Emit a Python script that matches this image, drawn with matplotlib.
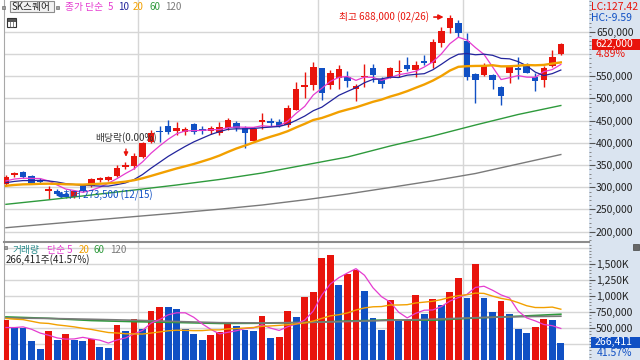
import numpy as np
import pandas as pd
import matplotlib
matplotlib.use("Agg")
import matplotlib.pyplot as plt
from matplotlib.patches import Rectangle
from matplotlib.ticker import FixedLocator, MultipleLocator, FuncFormatter

plt.rcParams['font.family'] = ['Noto Sans CJK KR', 'DejaVu Sans']

# daily candles (thousand won), 66 sessions up to today
opens = [307.0, 327.3, 333.4, 325.7, 313.8, 291.9, 291.0, 285.0, 277.1, 302.5,
         303.2, 316.0, 316.0, 325.7, 344.6, 348.2, 368.5, 402.3, 426.4, 437.6,
         427.1, 424.8, 441.5, 430.2, 426.4, 423.0, 432.5, 443.7, 433.1, 403.2,
         446.7, 448.9, 447.3, 439.9, 473.7, 525.5, 530.0, 567.6, 531.1, 545.0,
         548.7, 520.3, 547.3, 568.9, 543.5, 547.3, 559.3, 575.0, 563.8, 584.7,
         580.2, 625.2, 657.7, 668.9, 629.7, 554.7, 552.5, 552.5, 524.8, 556.3,
         567.6, 575.0, 548.7, 541.2, 573.4, 599.1]
highs = [327.3, 334.7, 336.3, 327.3, 319.9, 302.5, 296.0, 289.0, 293.5, 307.0,
         319.9, 323.5, 325.7, 349.8, 357.2, 376.2, 402.3, 428.6, 437.6, 451.2,
         447.3, 436.1, 443.7, 437.6, 437.6, 446.7, 455.0, 449.6, 437.6, 435.4,
         467.6, 455.7, 452.7, 485.0, 537.4, 559.9, 582.4, 567.6, 563.8, 575.0,
         562.2, 532.2, 577.3, 577.3, 548.0, 571.2, 586.3, 592.4, 584.0, 597.5,
         632.9, 661.3, 688.0, 676.4, 646.4, 557.0, 579.5, 554.7, 527.7, 575.0,
         593.7, 578.8, 556.3, 572.8, 608.8, 625.0]
lows = [302.5, 322.1, 319.9, 307.0, 307.0, 273.5, 283.0, 276.0, 274.8, 289.0,
        301.0, 312.2, 313.8, 323.5, 340.1, 340.1, 364.9, 399.4, 402.3, 419.6,
        417.4, 417.4, 419.6, 419.6, 419.6, 417.4, 428.6, 426.4, 387.4, 401.6,
        432.0, 437.6, 435.4, 436.1, 473.7, 500.0, 518.7, 496.2, 520.3, 520.3,
        524.8, 494.6, 524.8, 537.4, 522.5, 545.0, 547.3, 562.2, 547.3, 575.0,
        568.9, 616.2, 647.8, 638.7, 541.2, 490.1, 550.2, 520.3, 485.3, 533.8,
        542.8, 556.3, 517.1, 524.8, 571.2, 598.0]
closes = [322.1, 331.1, 323.5, 308.6, 311.5, 295.1, 285.0, 278.0, 291.9, 291.9,
          317.6, 319.9, 323.5, 342.4, 349.8, 370.1, 398.7, 421.2, 424.1, 424.8,
          432.5, 430.2, 424.8, 426.4, 432.5, 434.3, 451.2, 433.1, 423.0, 431.3,
          452.3, 443.3, 438.3, 477.5, 520.3, 530.0, 571.6, 513.1, 556.3, 565.3,
          539.7, 527.7, 550.2, 552.5, 532.2, 568.9, 562.2, 566.0, 575.0, 580.2,
          626.8, 651.6, 681.5, 647.8, 548.7, 541.2, 575.0, 541.2, 505.3, 569.8,
          564.4, 557.7, 539.7, 568.9, 593.0, 622.0]
# closes of the 19 sessions before the window (for the moving averages)
prev_closes = [292, 298, 300, 295, 290, 293, 297, 300, 298, 297,
               302, 305, 309, 306, 308, 310, 314, 311, 313]

# volume (thousand shares)
volumes = [620, 516, 506, 292, 167, 448, 308, 412, 308, 292,
           328, 203, 188, 553, 448, 636, 480, 761, 828, 819,
           792, 480, 412, 308, 394, 443, 600, 537, 475, 448,
           683, 344, 355, 761, 667, 980, 1058, 1589, 1631, 1162,
           1344, 1397, 1073, 652, 469, 928, 605, 631, 1006, 712,
           948, 865, 1063, 1281, 959, 1490, 959, 750, 917, 714,
           480, 422, 516, 636, 620, 266.411]
prev_volumes = [720, 650, 810, 690, 600, 760, 700, 640, 730, 680,
                710, 650, 700, 690, 680, 520, 450, 480, 462]

# long moving averages read every 5 sessions
ma_idx = [0, 5, 10, 15, 20, 25, 30, 35, 40, 45, 50, 55, 60, 65]
ma60 = [261.3, 271.4, 282.3, 293.5, 304.8, 317.2, 331.8, 349.8, 367.8, 392.6, 415.1, 439.9, 463.6, 483.8]
ma120 = [208.6, 217.0, 225.3, 233.6, 241.7, 250.3, 259.7, 271.4, 284.5, 299.2, 314.2, 330.7, 352.1, 373.4]
vma60 = [672, 650, 615, 598, 585, 570, 573, 585, 608, 625, 620, 655, 682, 714]
vma120 = [656, 648, 635, 620, 600, 582, 578, 585, 600, 618, 636, 660, 675, 683]

month_breaks = [15.5, 36.5, 53.5]

RED = '#e8140c'
BLUE = '#1050c4'
MAG = '#e53cd0'
NAVY = '#22249c'
ORANGE = '#f2a000'
GREEN = '#2e9a3c'
GRAY = '#7a7a7a'

W, H = 640, 360
fig = plt.figure(figsize=(6.4, 3.6), dpi=100)
fig.patches.append(Rectangle((589 / W, 0), 51 / W, 1, transform=fig.transFigure,
                             facecolor='#dae4f0', edgecolor='none', zorder=-1))

ax = fig.add_axes([4 / W, 1 - 241 / H, 585 / W, 241 / H])
axv = fig.add_axes([4 / W, 0, 585 / W, 118 / H])

x = np.arange(len(closes))
o = np.array(opens) * 1000
h = np.array(highs) * 1000
l = np.array(lows) * 1000
c = np.array(closes) * 1000
cols = np.where(c >= o, RED, BLUE)

# price panel
for p in range(200000, 700000, 50000):
    ax.axhline(p, color='#d6d6d6', lw=1, zorder=0)
for b in month_breaks:
    ax.axvline(b, color='#d6d6d6', lw=1, zorder=0)
    axv.axvline(b, color='#d6d6d6', lw=1, zorder=0)

ax.vlines(x, l, h, colors=cols, lw=1, zorder=3)
ax.bar(x, np.maximum(np.abs(c - o), 1500), bottom=np.minimum(o, c), width=0.76,
       color=cols, linewidth=0, zorder=4)

s = pd.Series(prev_closes + closes) * 1000
n0 = len(prev_closes)
for n, colr, lw in [(5, MAG, 0.9), (10, NAVY, 0.9), (20, ORANGE, 1.7)]:
    ma = s.rolling(n).mean().iloc[n0:].values
    ax.plot(x, ma, color=colr, lw=lw, zorder=5)
ax.plot(ma_idx, np.array(ma60) * 1000, color=GREEN, lw=1, zorder=5)
ax.plot(ma_idx, np.array(ma120) * 1000, color=GRAY, lw=1, zorder=5)

ax.set_xlim(-0.23, 68.3)
ax.set_ylim(178700, 721400)
ax.yaxis.tick_right()
ax.yaxis.set_major_locator(FixedLocator([200000, 250000, 300000, 350000, 400000,
                                         450000, 500000, 550000, 650000]))
ax.yaxis.set_minor_locator(MultipleLocator(10000))
ax.yaxis.set_major_formatter(FuncFormatter(lambda v, _: f"{v:,.0f}"))
ax.tick_params(axis='y', which='major', length=4, pad=1, labelsize=7.5,
               color='#555555', labelcolor='#222222')
ax.tick_params(axis='y', which='minor', length=1.5, color='#777777')
ax.set_xticks([])
for sp in ['top', 'right', 'bottom']:
    ax.spines[sp].set_visible(False)
ax.spines['left'].set_color('#a8a8a8')

# annotations
ax.annotate('', xy=(51.6, 683000), xytext=(49.8, 683000),
            arrowprops=dict(arrowstyle='-|>', color=RED, lw=1.2, mutation_scale=7))
ax.annotate('', xy=(5.45, 282500), xytext=(6.7, 282500),
            arrowprops=dict(arrowstyle='-|>', color=BLUE, lw=1.6, mutation_scale=7))
ax.annotate('', xy=(14.06, 362000), xytext=(14.06, 392000),
            arrowprops=dict(arrowstyle='-|>', color=RED, lw=1.0, mutation_scale=6))

# volume panel
v = np.array(volumes) * 1000
pv = np.concatenate([[prev_volumes[-1] * 1000], v[:-1]])
vcols = np.where(v >= pv, RED, BLUE)
for q in [250000, 500000, 750000, 1000000, 1250000, 1500000, 1750000]:
    axv.axhline(q, color='#d6d6d6', lw=1, zorder=0)
axv.bar(x, v, width=0.8, color=vcols, linewidth=0, zorder=3)
vs = pd.Series(prev_volumes + volumes) * 1000
for n, colr, lw in [(5, MAG, 0.9), (20, ORANGE, 1.0)]:
    vma = vs.rolling(n).mean().iloc[n0:].values
    axv.plot(x, vma, color=colr, lw=lw, zorder=5)
axv.plot(ma_idx, np.array(vma60) * 1000, color=GREEN, lw=1.2, zorder=4)
axv.plot(ma_idx, np.array(vma120) * 1000, color=GRAY, lw=1.2, zorder=4)

axv.set_xlim(-0.23, 68.3)
axv.set_ylim(0, 1840000)
axv.yaxis.tick_right()
axv.yaxis.set_major_locator(FixedLocator([500000, 750000, 1000000, 1250000, 1500000]))
axv.yaxis.set_minor_locator(MultipleLocator(50000))
axv.yaxis.set_major_formatter(FuncFormatter(
    lambda q, _: f"{q / 1000:,.0f}K" if q >= 1000000 else f"{q:,.0f}"))
axv.tick_params(axis='y', which='major', length=4, pad=1, labelsize=7.5,
                color='#555555', labelcolor='#222222')
axv.tick_params(axis='y', which='minor', length=1.5, color='#777777')
axv.set_xticks([])
for sp in ['right', 'bottom']:
    axv.spines[sp].set_visible(False)
axv.spines['top'].set_color('#8c8c8c')
axv.spines['top'].set_linewidth(1.5)
axv.spines['left'].set_color('#a8a8a8')


def ftext(px, py, txt, **kw):
    kw.setdefault('ha', 'left')
    fig.text(px / W, 1 - py / H, txt, va='center', **kw)


def frect(px, py, w, hh, **kw):
    fig.patches.append(Rectangle((px / W, 1 - (py + hh) / H), w / W, hh / H,
                                 transform=fig.transFigure, **kw))


# price header
frect(2, 6, 3, 3, facecolor='#a0a0a0', edgecolor='#707070', lw=0.5)
frect(9.5, 1.5, 44, 10.5, facecolor='#f2f2f2', edgecolor='#8c8c8c', lw=0.8)
ftext(12, 7, 'SK스퀘어', fontsize=7, color='#222222')
frect(56, 6, 3, 3, facecolor='#a0a0a0', edgecolor='#707070', lw=0.5)
ftext(65, 7, '종가 단순', fontsize=7, color=MAG)
ftext(108, 7, '5', fontsize=7, color=MAG)
ftext(118, 7, '10', fontsize=7, color=NAVY)
ftext(133, 7, '20', fontsize=7, color=ORANGE)
ftext(149, 7, '60', fontsize=7, color=GREEN)
ftext(165, 7, '120', fontsize=7, color=GRAY)
frect(7, 18.5, 9, 8.5, facecolor='#ffffff', edgecolor='#333333', lw=0.8)
frect(7, 18.5, 9, 2.5, facecolor='#555555', edgecolor='#333333', lw=0.5)
frect(10, 21, 3, 6, facecolor='none', edgecolor='#555555', lw=0.5)

ftext(429, 17, '최고 688,000 (02/26)', fontsize=7, color=RED, ha='right')
ftext(63, 195.5, '최저 273,500 (12/15)', fontsize=7, color=BLUE)
ftext(95, 138, '배당락(0.00%)', fontsize=7, color='#333333')

# volume header
frect(4, 246, 3, 3, facecolor='#a0a0a0', edgecolor='#707070', lw=0.5)
ftext(13, 250, '거래량', fontsize=7, color='#2a8c8c')
ftext(47, 250, '단순 5', fontsize=7, color=MAG)
ftext(79, 250, '20', fontsize=7, color=ORANGE)
ftext(94, 250, '60', fontsize=7, color=GREEN)
ftext(110, 250, '120', fontsize=7, color=GRAY)
ftext(6, 260, '266,411주(41.57%)', fontsize=7, color='#222222')

# right side labels
ftext(591, 7, 'LC:127.42', fontsize=7.5, color=RED)
ftext(591, 18, 'HC:-9.59', fontsize=7.5, color=BLUE)
frect(592, 38.5, 48, 11, facecolor=RED, edgecolor='none')
ftext(595, 44, '622,000', fontsize=7.5, color='white')
ftext(596, 54, '4.89%', fontsize=7.5, color=RED)
frect(591, 336.5, 49, 11, facecolor=BLUE, edgecolor='none')
ftext(595, 342, '266,411', fontsize=7.5, color='white')
ftext(597, 352.5, '41.57%', fontsize=7.5, color=BLUE)
frect(633, 244, 6, 6, facecolor='#666666', edgecolor='#444444', lw=0.5)

fig.savefig('out.png', dpi=100)
